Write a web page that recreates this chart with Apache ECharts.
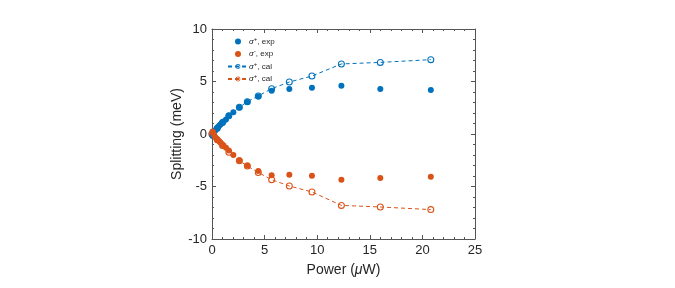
<!DOCTYPE html>
<html><head><meta charset="utf-8">
<script src="https://cdn.jsdelivr.net/npm/echarts@6/dist/echarts.min.js"></script>
<style>html,body{margin:0;padding:0;background:#fff}#c{width:675px;height:288px}</style>
</head><body><div id="c"></div>
<script>
var xTicks = [0, 5, 10, 15, 20, 25];
var yTicks = [-10, -5, 0, 5, 10];
var plusExpX = [0.05,0.1,0.15,0.2,0.3,0.4,0.5,0.6,0.7,0.8,0.9,1.0,1.1,1.33,1.6,2.03,2.6,3.36,4.4,5.67,7.35,9.5,12.3,16.0,20.8];
var plusExpY = [-0.2,-0.05,0.1,0.2,0.32,0.45,0.55,0.68,0.8,0.9,1.0,1.1,1.2,1.39,1.74,2.08,2.53,3.05,3.58,4.12,4.28,4.4,4.6,4.28,4.2];
var minusExpX = [0.05,0.1,0.15,0.2,0.3,0.4,0.5,0.6,0.7,0.8,0.9,1.0,1.1,1.33,1.6,2.03,2.6,3.36,4.4,5.67,7.35,9.5,12.3,16.0,20.8];
var minusExpY = [0.25,0.12,0.0,-0.12,-0.28,-0.4,-0.52,-0.62,-0.72,-0.82,-0.92,-1.02,-1.12,-1.3,-1.56,-2.0,-2.51,-2.99,-3.52,-3.92,-3.88,-3.97,-4.35,-4.19,-4.07];
var calX = [0, 0.5, 1.0, 1.6, 2.6, 3.36, 4.4, 5.67, 7.35, 9.5, 12.3, 16.0, 20.8];
var plusCalY = [0, 0.55, 1.1, 1.74, 2.55, 3.08, 3.62, 4.32, 4.95, 5.52, 6.67, 6.82, 7.08];
var minusCalY = [0, -0.55, -1.1, -1.74, -2.55, -3.05, -3.66, -4.35, -4.95, -5.52, -6.8, -6.95, -7.2];
var legendNames = ['{i|σ}{s|+}, exp', '{i|σ}{s|-}, exp', '{i|σ}{s|+}, cal', '{i|σ}{s|+}, cal '];

function zip(a, b) { return a.map(function (v, i) { return [v, b[i]]; }); }
var blue = '#0072BD', orange = '#D95319', axisC = '#262626', lineC = '#555555';
var font = 'Liberation Sans, Arial, sans-serif';
var ring = 'path://M0,10 A10,10 0 1,0 20,10 A10,10 0 1,0 0,10 Z M3,10 A7,7 0 1,1 17,10 A7,7 0 1,1 3,10 Z';

function axisBase(show) {
  return {
    axisLine: { show: true, onZero: false, lineStyle: { color: lineC, width: 1 } },
    axisTick: { show: true, inside: true, length: 4, lineStyle: { color: lineC } },
    minorTick: { show: true, splitNumber: 5, length: 2, lineStyle: { color: lineC } },
    splitLine: { show: false },
    axisLabel: { show: show, color: axisC, fontSize: 13, fontFamily: font }
  };
}
var xMain = Object.assign(axisBase(true), {
  type: 'value', min: xTicks[0], max: xTicks[xTicks.length - 1], interval: 5, position: 'bottom',
  name: 'Power ({m|μ}W)', nameLocation: 'middle', nameGap: 24,
  nameTextStyle: { color: axisC, fontSize: 14, fontFamily: font, rich: { m: { fontStyle: 'italic', fontSize: 14, fontFamily: font, color: axisC } } }
});
xMain.axisLabel.margin = 5;
var xTop = Object.assign(axisBase(false), { type: 'value', min: 0, max: 25, interval: 5, position: 'top' });
var yMain = Object.assign(axisBase(true), {
  type: 'value', min: yTicks[0], max: yTicks[yTicks.length - 1], interval: 5, position: 'left',
  name: 'Splitting (meV)', nameLocation: 'middle', nameGap: 25,
  nameTextStyle: { color: axisC, fontSize: 14, fontFamily: font }
});
yMain.axisLabel.margin = 5;
var yRight = Object.assign(axisBase(false), { type: 'value', min: -10, max: 10, interval: 5, position: 'right' });

var chart = echarts.init(document.getElementById('c'), null, { renderer: 'canvas' });
chart.setOption({
  animation: false,
  grid: { left: 212, right: 200, top: 29, bottom: 49 },
  xAxis: [xMain, xTop],
  yAxis: [yMain, yRight],
  legend: {
    left: 222, top: 31, orient: 'vertical', itemGap: 3, itemWidth: 20, itemHeight: 6,
    textStyle: { fontSize: 8, fontFamily: font, color: axisC, padding: [0, 0, 0, -4],
      rich: { i: { fontStyle: 'italic', fontSize: 8, fontFamily: font, color: axisC },
              s: { fontSize: 6, verticalAlign: 'top', padding: [0, 0, 5, 0], fontFamily: font, color: axisC } } },
    data: legendNames
  },
  series: [
    { name: legendNames[0], type: 'scatter', data: zip(plusExpX, plusExpY), symbol: 'circle', symbolSize: 6, z: 5, itemStyle: { color: blue, opacity: 1 } },
    { name: legendNames[1], type: 'scatter', data: zip(minusExpX, minusExpY), symbol: 'circle', symbolSize: 6, z: 5, itemStyle: { color: orange, opacity: 1 } },
    { name: legendNames[2], type: 'line', data: zip(calX, plusCalY), symbol: ring, symbolSize: 7, z: 3,
      itemStyle: { color: blue, borderWidth: 0 }, lineStyle: { color: blue, width: 1, type: [4, 3] } },
    { name: legendNames[3], type: 'line', data: zip(calX, minusCalY), symbol: ring, symbolSize: 7, z: 3,
      itemStyle: { color: orange, borderWidth: 0 }, lineStyle: { color: orange, width: 1, type: [4, 3] } }
  ]
});
</script></body></html>
